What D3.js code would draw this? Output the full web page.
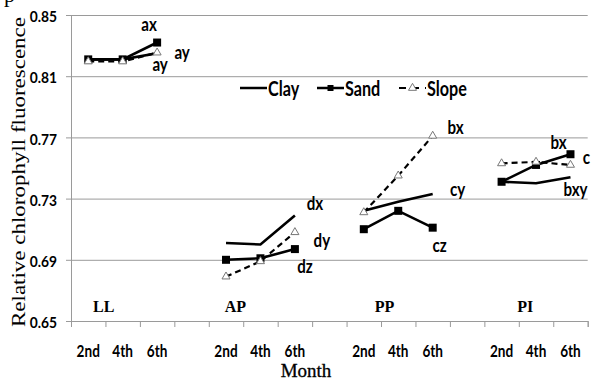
<!DOCTYPE html>
<html>
<head>
<meta charset="utf-8">
<script src="https://cdn.jsdelivr.net/npm/d3@7"></script>
<style>
	body { margin: 0; background: #fff; }
	svg { display: block; }
</style>
</head>
<body>
<script>
// DATA
const groups = ['LL', 'AP', 'PP', 'PI'];
const months = ['2nd', '4th', '6th'];
const yTicks = [0.65, 0.69, 0.73, 0.77, 0.81, 0.85];
const groupLabelSlot = [0.95, 4.77, 9.1, 13.19];

const clay = [[0.821, 0.821, 0.825], [0.701, 0.700, 0.719], [0.722, 0.728, 0.733], [0.741, 0.740, 0.744]];
const sand = [[0.821, 0.821, 0.832], [0.690, 0.691, 0.697], [0.710, 0.722, 0.711], [0.741, 0.752, 0.759]];
const slope = [[0.8196, 0.8196, 0.8254], [0.679, 0.689, 0.708], [0.721, 0.745, 0.771], [0.753, 0.754, 0.752]];

const clayLetters = ['ay', 'dx', 'cy', 'bxy'];
const sandLetters = ['ax', 'dz', 'cz', 'c'];
const slopeLetters = ['ay', 'dy', 'bx', 'bx'];

// CONFIGURATION
const width = 592;
const height = 381;
const margin = { top: 15, right: 4.3, bottom: 60, left: 71 };
const grey = '#9a9a9a';
const sansFont = 'Lato, "Open Sans", sans-serif';
const serifFont = '"Liberation Serif", "DejaVu Serif", serif';

// label offsets from the 6th month point of each group
const clayOffsets = [[3, 11], [20, -12], [25, -4], [5, 13]];
const sandOffsets = [[-8, -18], [10, 18], [7, 18], [16, 3]];
const slopeOffsets = [[25, 0], [27, 8], [23, -8], [-12, -22]];

// narrow the text like a condensed face
function squeeze(selection, factor) {
	selection.each(function () {
		const len = this.getComputedTextLength();
		d3.select(this)
			.attr('textLength', len * factor)
			.attr('lengthAdjust', 'spacingAndGlyphs');
	});
}

const svg = d3.select('body')
	.append('svg')
	.attr('width', width)
	.attr('height', height);

// SCALES
const x = d3.scaleLinear()
	.domain([0, groups.length * 4 - 1])
	.range([margin.left, width - margin.right]);
const y = d3.scaleLinear()
	.domain([0.65, 0.85])
	.range([height - margin.bottom, margin.top]);

const slot = (g, m) => g * 4 + m + 0.5;

// GRID
svg.append('g')
	.attr('transform', `translate(${margin.left}, 0)`)
	.call(d3.axisLeft(y).tickValues(yTicks.slice(1)).tickSize(-(width - margin.right - margin.left)).tickFormat(''))
	.call(g => g.select('.domain').remove())
	.call(g => g.selectAll('line').attr('stroke', grey));

// Y AXIS
const yAxis = svg.append('g')
	.attr('transform', `translate(${margin.left}, 0)`)
	.call(d3.axisLeft(y).tickValues(yTicks).tickSize(5).tickPadding(9).tickFormat(d3.format('.2f')));
yAxis.select('.domain').attr('stroke', grey);
yAxis.selectAll('line').attr('stroke', grey);
yAxis.selectAll('text')
	.attr('font-family', sansFont)
	.attr('font-weight', 'bold')
	.attr('font-size', 15)
	.attr('fill', '#000')
	.attr('dy', '0.45em')
	.call(squeeze, 0.92);

// X AXIS
const xAxis = svg.append('g')
	.attr('transform', `translate(0, ${y(0.65)})`)
	.call(d3.axisBottom(x).tickValues(d3.range(groups.length * 4)).tickSize(6).tickFormat(''));
xAxis.select('.domain').attr('stroke', grey);
xAxis.selectAll('line').attr('stroke', grey);

const monthTicks = [];
groups.forEach((g, gi) => months.forEach((m, mi) => monthTicks.push({ slot: slot(gi, mi), label: m })));
svg.append('g')
	.selectAll('text')
	.data(monthTicks)
	.join('text')
	.attr('x', d => x(d.slot))
	.attr('y', 357)
	.attr('text-anchor', 'middle')
	.attr('font-family', sansFont)
	.attr('font-weight', 'bold')
	.attr('font-size', 17)
	.text(d => d.label)
	.call(squeeze, 0.8);

// GROUP LABELS
svg.append('g')
	.selectAll('text')
	.data(groups)
	.join('text')
	.attr('x', (d, i) => x(groupLabelSlot[i]))
	.attr('y', 312)
	.attr('text-anchor', 'middle')
	.attr('font-family', serifFont)
	.attr('font-weight', 'bold')
	.attr('font-size', 16)
	.text(d => d);

// AXIS TITLES
svg.append('text')
	.attr('transform', 'translate(25, 327) rotate(-90)')
	.attr('font-family', serifFont)
	.attr('font-size', 19)
	.attr('textLength', 310)
	.attr('lengthAdjust', 'spacingAndGlyphs')
	.text('Relative chlorophyll fluorescence');

svg.append('text')
	.attr('x', 306)
	.attr('y', 377)
	.attr('text-anchor', 'middle')
	.attr('font-family', serifFont)
	.attr('font-size', 19)
	.attr('stroke', '#000')
	.attr('stroke-width', 0.3)
	.text('Month');

svg.append('text')
	.attr('x', 4)
	.attr('y', 2)
	.attr('font-family', serifFont)
	.attr('font-size', 22)
	.text('p');

// SERIES
const series = [
	{ name: 'Clay', values: clay, letters: clayLetters, offsets: clayOffsets, dash: null, marker: null },
	{ name: 'Sand', values: sand, letters: sandLetters, offsets: sandOffsets, dash: null, marker: 'square' },
	{ name: 'Slope', values: slope, letters: slopeLetters, offsets: slopeOffsets, dash: '6,4', marker: 'triangle' }
];

const line = d3.line()
	.x(d => x(d.slot))
	.y(d => y(d.value));

const triangle = d3.symbol().type(d3.symbolTriangle).size(28);

series.forEach(s => {
	const g = svg.append('g');
	s.values.forEach((vals, gi) => {
		const pts = vals.map((v, mi) => ({ slot: slot(gi, mi), value: v }));
		g.append('path')
			.datum(pts)
			.attr('d', line)
			.attr('fill', 'none')
			.attr('stroke', '#000')
			.attr('stroke-width', s.dash ? 2.2 : 2.6)
			.attr('stroke-dasharray', s.dash);
		if (s.marker === 'square') {
			g.selectAll(null)
				.data(pts)
				.join('rect')
				.attr('x', d => x(d.slot) - 4)
				.attr('y', d => y(d.value) - 4)
				.attr('width', 8)
				.attr('height', 8)
				.attr('fill', '#000');
		}
		if (s.marker === 'triangle') {
			g.selectAll(null)
				.data(pts)
				.join('path')
				.attr('transform', d => `translate(${x(d.slot)}, ${y(d.value)})`)
				.attr('d', triangle)
				.attr('fill', '#fff')
				.attr('stroke', '#777')
				.attr('stroke-width', 1);
		}
	});
});

// LETTERS
series.forEach(s => {
	svg.append('g')
		.selectAll('text')
		.data(s.letters)
		.join('text')
		.attr('x', (d, gi) => x(slot(gi, 2)) + s.offsets[gi][0])
		.attr('y', (d, gi) => y(s.values[gi][2]) + s.offsets[gi][1])
		.attr('dy', '0.35em')
		.attr('text-anchor', 'middle')
		.attr('font-family', sansFont)
		.attr('font-weight', 'bold')
		.attr('font-size', 18)
		.text(d => d)
		.call(squeeze, 0.84);
});

// LEGEND
const legendX = [240, 317, 399];
const legendY = 88;
const legend = svg.append('g')
	.selectAll('g')
	.data(series)
	.join('g')
	.attr('transform', (d, i) => `translate(${legendX[i]}, ${legendY})`);
legend.append('line')
	.attr('x1', 0)
	.attr('x2', 27)
	.attr('stroke', '#000')
	.attr('stroke-width', d => d.dash ? 2 : 2.5)
	.attr('stroke-dasharray', d => d.dash ? '7,6' : null);
legend.filter(d => d.marker === 'square')
	.append('rect')
	.attr('x', 10.5)
	.attr('y', -3)
	.attr('width', 6)
	.attr('height', 6);
legend.filter(d => d.marker === 'triangle')
	.append('path')
	.attr('transform', 'translate(13.5, 0)')
	.attr('d', triangle)
	.attr('fill', '#fff')
	.attr('stroke', '#777');
legend.append('text')
	.attr('x', 28)
	.attr('dy', '0.36em')
	.attr('font-family', sansFont)
	.attr('font-weight', 'bold')
	.attr('font-size', 21)
	.text(d => d.name)
	.call(squeeze, 0.77);
</script>
</body>
</html>
